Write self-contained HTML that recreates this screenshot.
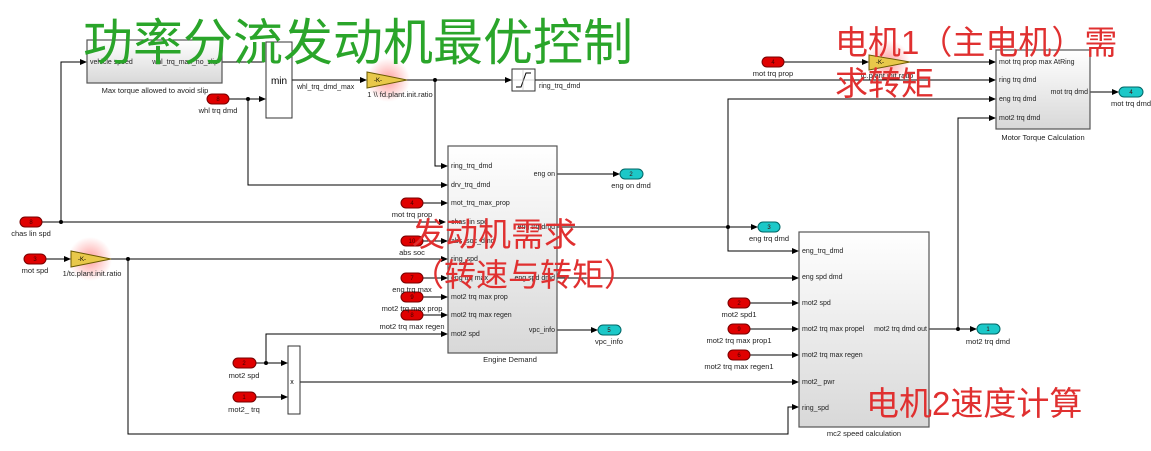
<!DOCTYPE html>
<html><head><meta charset="utf-8"><style>
html,body{margin:0;padding:0;background:#fff;}
svg{display:block;}
text{font-family:"Liberation Sans",sans-serif;}
.s{font-size:7px;fill:#222;}
.l{font-size:7.5px;fill:#222;}
.cjk{font-family:"Liberation Sans","Noto Sans CJK SC",sans-serif;}
</style></head><body>
<svg width="1151" height="451" viewBox="0 0 1151 451" xmlns="http://www.w3.org/2000/svg">
<defs>
<marker id="a" markerWidth="7" markerHeight="6" refX="6" refY="3" orient="auto" markerUnits="userSpaceOnUse"><path d="M0,0 L7,3 L0,6z" fill="#000"/></marker>
<linearGradient id="g" x1="0" y1="0" x2="0" y2="1"><stop offset="0" stop-color="#fff"/><stop offset="1" stop-color="#d8d8d8"/></linearGradient>
<radialGradient id="glow"><stop offset="0" stop-color="#ff6060" stop-opacity="0.6"/><stop offset="1" stop-color="#ff6060" stop-opacity="0"/></radialGradient>
</defs>
<g stroke="#000" stroke-width="1" fill="none">
<path d="M42 222 H445" marker-end="url(#a)"/>
<path d="M61 222 V62 H86" marker-end="url(#a)"/>
<path d="M222 62 H264"/>
<path d="M229 99 H265" marker-end="url(#a)"/>
<path d="M248 99 V185 H447" marker-end="url(#a)"/>
<path d="M292 80 H366" marker-end="url(#a)"/>
<path d="M407 80 H511" marker-end="url(#a)"/>
<path d="M435 80 V166 H447" marker-end="url(#a)"/>
<path d="M535 80 H995" marker-end="url(#a)"/>
<path d="M784 62 H868" marker-end="url(#a)"/>
<path d="M910 62 H995" marker-end="url(#a)"/>
<path d="M1090 92 H1118" marker-end="url(#a)"/>
<path d="M46 259 H70" marker-end="url(#a)"/>
<path d="M111 259 H447" marker-end="url(#a)"/>
<path d="M128 259 V434 H788 V407 H798" marker-end="url(#a)"/>
<path d="M423 203 H447" marker-end="url(#a)"/>
<path d="M423 241 H447" marker-end="url(#a)"/>
<path d="M423 278 H447" marker-end="url(#a)"/>
<path d="M423 297 H447" marker-end="url(#a)"/>
<path d="M423 315 H447" marker-end="url(#a)"/>
<path d="M557 174 H619" marker-end="url(#a)"/>
<path d="M557 227 H757" marker-end="url(#a)"/>
<path d="M728 227 V99 H995" marker-end="url(#a)"/>
<path d="M728 227 V251 H798" marker-end="url(#a)"/>
<path d="M557 278 H798" marker-end="url(#a)"/>
<path d="M557 330 H597" marker-end="url(#a)"/>
<path d="M256 363 H287" marker-end="url(#a)"/>
<path d="M266 363 V334 H447" marker-end="url(#a)"/>
<path d="M256 397 H287" marker-end="url(#a)"/>
<path d="M300 382 H798" marker-end="url(#a)"/>
<path d="M750 303 H798" marker-end="url(#a)"/>
<path d="M750 329 H798" marker-end="url(#a)"/>
<path d="M750 355 H798" marker-end="url(#a)"/>
<path d="M929 329 H976" marker-end="url(#a)"/>
<path d="M958 329 V118 H995" marker-end="url(#a)"/>
</g>
<g fill="#000">
<circle cx="61" cy="222" r="2"/><circle cx="248" cy="99" r="2"/><circle cx="435" cy="80" r="2"/>
<circle cx="128" cy="259" r="2"/><circle cx="728" cy="227" r="2"/><circle cx="266" cy="363" r="2"/><circle cx="958" cy="329" r="2"/>
</g>
<g stroke="#555" stroke-width="1.2" fill="url(#g)">
<rect x="87" y="40" width="135" height="43"/>
<rect x="448" y="146" width="109" height="207"/>
<rect x="996" y="50" width="94" height="79"/>
<rect x="799" y="232" width="130" height="195"/>
</g>
<g stroke="#333" fill="#fff">
<rect x="266" y="42" width="26" height="76"/>
<rect x="288" y="346" width="12" height="68"/>
<rect x="512" y="69" width="23" height="22"/>
</g>
<path d="M516 87 H521 L526 73 H531" stroke="#000" fill="none"/>
<path d="M513 80 H534 M523 70 V90" stroke="#aaa" stroke-width="0.5"/>
<text x="279" y="84" font-size="10" text-anchor="middle">min</text>
<text x="292" y="384" font-size="7" text-anchor="middle">x</text>
<circle cx="388" cy="80" r="22" fill="url(#glow)"/>
<circle cx="90" cy="259" r="22" fill="url(#glow)"/>
<circle cx="888" cy="62" r="22" fill="url(#glow)"/>
<g fill="#e8c84a" stroke="#6a5a00" stroke-width="1">
<path d="M367 72 L407 80 L367 88z"/><path d="M71 251 L111 259 L71 267z"/><path d="M869 55 L910 62 L869 70z"/>
</g>
<g font-size="6" fill="#000"><text x="374" y="82">-K-</text><text x="78" y="261">-K-</text><text x="876" y="64">-K-</text></g>
<g fill="#e00000" stroke="#700" stroke-width="1">
<rect x="20" y="217" width="22" height="10" rx="5"/>
<rect x="207" y="94" width="22" height="10" rx="5"/>
<rect x="24" y="254" width="22" height="10" rx="5"/>
<rect x="401" y="198" width="22" height="10" rx="5"/>
<rect x="401" y="236" width="22" height="10" rx="5"/>
<rect x="401" y="273" width="22" height="10" rx="5"/>
<rect x="401" y="292" width="22" height="10" rx="5"/>
<rect x="401" y="310" width="22" height="10" rx="5"/>
<rect x="762" y="57" width="22" height="10" rx="5"/>
<rect x="233" y="358" width="23" height="10" rx="5"/>
<rect x="233" y="392" width="23" height="10" rx="5"/>
<rect x="728" y="298" width="22" height="10" rx="5"/>
<rect x="728" y="324" width="22" height="10" rx="5"/>
<rect x="728" y="350" width="22" height="10" rx="5"/>
</g>
<g fill="#1cc8c8" stroke="#066" stroke-width="1">
<rect x="620" y="169" width="23" height="10" rx="5"/>
<rect x="758" y="222" width="22" height="10" rx="5"/>
<rect x="598" y="325" width="23" height="10" rx="5"/>
<rect x="1119" y="87" width="24" height="10" rx="5"/>
<rect x="977" y="324" width="23" height="10" rx="5"/>
</g>
<g font-size="6" fill="#400" text-anchor="middle">
<text x="31" y="224">8</text><text x="218" y="101">8</text><text x="35" y="261">3</text>
<text x="412" y="205">4</text><text x="412" y="243">10</text><text x="412" y="280">7</text><text x="412" y="299">9</text><text x="412" y="317">8</text>
<text x="773" y="64">4</text><text x="244" y="365">2</text><text x="244" y="399">1</text>
<text x="739" y="305">2</text><text x="739" y="331">9</text><text x="739" y="357">6</text>
<text x="631" y="176">2</text><text x="769" y="229">3</text><text x="609" y="332">5</text><text x="1131" y="94">4</text><text x="988" y="331">1</text>
</g>
<g class="l" text-anchor="middle">
<text x="31" y="236">chas lin spd</text><text x="218" y="113">whl  trq dmd</text><text x="35" y="273">mot spd</text>
<text x="155" y="93">Max torque allowed to avoid slip</text><text x="400" y="97">1 \\ fd.plant.init.ratio</text>
<text x="92" y="276">1/tc.plant.init.ratio</text>
<text x="412" y="217">mot trq prop</text><text x="412" y="255">abs soc</text><text x="412" y="292">eng trq max</text>
<text x="412" y="311">mot2 trq max prop</text><text x="412" y="329">mot2 trq max regen</text>
<text x="773" y="76">mot trq prop</text><text x="887" y="78">tc.plant.init.ratio</text>
<text x="631" y="188">eng on dmd</text><text x="769" y="241">eng trq dmd</text><text x="609" y="344">vpc_info</text>
<text x="1131" y="106">mot trq dmd</text><text x="988" y="344">mot2 trq dmd</text>
<text x="244" y="378">mot2 spd</text><text x="244" y="412">mot2_ trq</text>
<text x="739" y="317">mot2 spd1</text><text x="739" y="343">mot2 trq max prop1</text><text x="739" y="369">mot2 trq max regen1</text>
<text x="510" y="362">Engine Demand</text><text x="1043" y="140">Motor Torque Calculation</text><text x="864" y="436">mc2 speed calculation</text>
</g>
<g class="s">
<text x="90" y="64">vehicle speed</text><text x="218" y="64" text-anchor="end">whl_trq_max_no_slip</text>
<text x="297" y="89">whl_trq_dmd_max</text><text x="539" y="88">ring_trq_dmd</text>
<text x="451" y="168">ring_trq_dmd</text><text x="451" y="187">drv_trq_dmd</text><text x="451" y="205">mot_trq_max_prop</text>
<text x="451" y="224">chas lin spd</text><text x="451" y="243">abs_soc_dmd</text><text x="451" y="261">ring_spd</text>
<text x="451" y="280">eng trq max</text><text x="451" y="299">mot2 trq max prop</text><text x="451" y="317">mot2 trq max regen</text><text x="451" y="336">mot2 spd</text>
<text x="555" y="176" text-anchor="end">eng on</text><text x="555" y="229" text-anchor="end">eng trq dmd</text>
<text x="555" y="280" text-anchor="end">eng spd dmd</text><text x="555" y="332" text-anchor="end">vpc_info</text>
<text x="999" y="64">mot trq prop max AtRing</text><text x="999" y="82">ring trq dmd</text><text x="999" y="101">eng trq dmd</text><text x="999" y="120">mot2 trq dmd</text>
<text x="1088" y="94" text-anchor="end">mot trq dmd</text>
<text x="802" y="253">eng_trq_dmd</text><text x="802" y="279">eng spd dmd</text><text x="802" y="305">mot2 spd</text>
<text x="802" y="331">mot2 trq max propel</text><text x="802" y="357">mot2 trq max regen</text><text x="802" y="384">mot2_ pwr</text><text x="802" y="410">ring_spd</text>
<text x="927" y="331" text-anchor="end">mot2 trq dmd out</text>
</g>
<text class="cjk" x="83" y="60" font-size="50" fill="#2aa52a">功率分流发动机最优控制</text>
<text class="cjk" x="835" y="54" font-size="33" fill="#e03030">电机1（主电机）需</text>
<text class="cjk" x="835" y="95" font-size="33" fill="#e03030">求转矩</text>
<text class="cjk" x="412" y="246" font-size="33" fill="#e03030">发动机需求</text>
<text class="cjk" x="412" y="286" font-size="32" fill="#e03030">（转速与转矩）</text>
<text class="cjk" x="866" y="415" font-size="33" fill="#e03030">电机2速度计算</text>
</svg>
</body></html>
